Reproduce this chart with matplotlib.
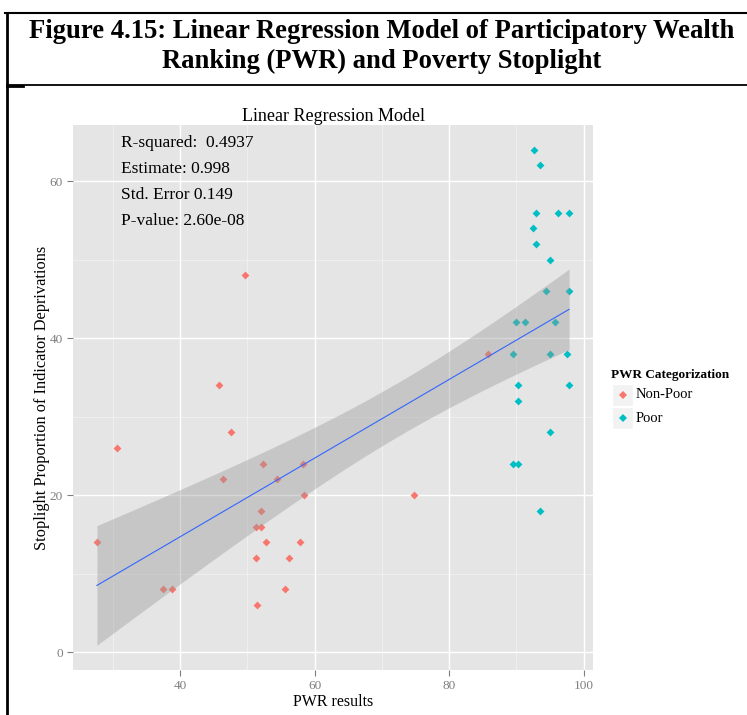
import numpy as np
import matplotlib
matplotlib.use("Agg")
import matplotlib.pyplot as plt
from matplotlib.lines import Line2D

# ---- data -------------------------------------------------------------
nonpoor_pwr = [45.75, 47.58, 30.53, 52.34, 58.33, 46.29, 54.42, 58.48, 74.8,
               52.09, 51.26, 52.0, 27.61, 52.74, 57.84, 51.26, 56.16,
               37.47, 38.81, 55.61, 51.41, 49.67, 85.84]
nonpoor_stop = [34, 28, 26, 24, 24, 22, 22, 20, 20,
                18, 16, 16, 14, 14, 14, 12, 12,
                8, 8, 8, 6, 48, 38]

poor_pwr = [92.64, 93.49, 92.94, 96.2, 97.84, 92.49, 92.94, 95.06, 94.38,
            97.84, 90.0, 91.35, 95.72, 89.56, 95.06, 97.5, 90.3, 97.84,
            90.3, 95.06, 89.56, 90.3, 93.49]
poor_stop = [64, 62, 56, 56, 56, 54, 52, 50, 46,
             46, 42, 42, 42, 38, 38, 38, 34, 34,
             32, 28, 24, 24, 18]

categories = ["Non-Poor", "Poor"]
colors = ["#F8766D", "#00BFC4"]

stats_lines = ["R-squared:  0.4937", "Estimate: 0.998",
               "Std. Error 0.149", "P-value: 2.60e-08"]

x_ticks = [40, 60, 80, 100]
y_ticks = [0, 20, 40, 60]

# ---- linear fit with 95% confidence band --------------------------------
x_all = np.array(nonpoor_pwr + poor_pwr, dtype=float)
y_all = np.array(nonpoor_stop + poor_stop, dtype=float)
n = len(x_all)
slope, intercept = np.polyfit(x_all, y_all, 1)
resid = y_all - (intercept + slope * x_all)
s = np.sqrt(np.sum(resid ** 2) / (n - 2))
x_mean = x_all.mean()
sxx = np.sum((x_all - x_mean) ** 2)
t_crit = 2.0154  # t(0.975, df=44)
xs = np.linspace(x_all.min(), x_all.max(), 80)
ys = intercept + slope * xs
se = s * np.sqrt(1.0 / n + (xs - x_mean) ** 2 / sxx)
lo, hi = ys - t_crit * se, ys + t_crit * se

# ---- figure -------------------------------------------------------------
serif = ["Liberation Serif", "DejaVu Serif"]
plt.rcParams["font.family"] = serif

W, H = 747, 715
fig = plt.figure(figsize=(W / 100, H / 100), dpi=100)

def fx(px):
    return px / W

def fy(py):
    return 1 - py / H

# framing lines around the heading
for (x0, y0, x1, y1, lw) in [(5, 13, 747, 13, 1.5), (7, 13, 7, 715, 2.0),
                              (7, 85, 747, 85, 1.3), (7, 86, 23, 86, 2.0)]:
    fig.add_artist(Line2D([fx(x0), fx(x1)], [fy(y0), fy(y1)],
                          color="black", lw=lw, transform=fig.transFigure))

fig.text(fx(382), fy(31), "Figure 4.15: Linear Regression Model of Participatory Wealth",
         ha="center", va="center", fontsize=19.2, fontweight="bold")
fig.text(fx(382), fy(61), "Ranking (PWR) and Poverty Stoplight",
         ha="center", va="center", fontsize=19.2, fontweight="bold")

ax = fig.add_axes([fx(73.3), fy(670), fx(592.7) - fx(73.3), fy(125) - fy(670)])
ax.set_facecolor("#E5E5E5")
for sp in ax.spines.values():
    sp.set_visible(False)

# grid
for v in [30, 50, 70, 90]:
    ax.axvline(v, color="#F2F2F2", lw=0.6, zorder=0.5)
for v in [10, 30, 50]:
    ax.axhline(v, color="#F2F2F2", lw=0.6, zorder=0.5)
for v in x_ticks:
    ax.axvline(v, color="white", lw=1.0, zorder=0.6)
for v in y_ticks:
    ax.axhline(v, color="white", lw=1.0, zorder=0.6)

ax.scatter(nonpoor_pwr, nonpoor_stop, marker="D", s=16, color=colors[0],
           linewidths=0, zorder=2)
ax.scatter(poor_pwr, poor_stop, marker="D", s=16, color=colors[1],
           linewidths=0, zorder=2)

ax.fill_between(xs, lo, hi, color="#999999", alpha=0.4, linewidth=0, zorder=3)
ax.plot(xs, ys, color="#3366FF", lw=0.8, zorder=4)

# ggplot-style 5% expansion
xr = x_all.max() - x_all.min()
ax.set_xlim(x_all.min() - 0.05 * xr, x_all.max() + 0.05 * xr)
ymin = min(y_all.min(), lo.min())
ymax = max(y_all.max(), hi.max())
yr = ymax - ymin
ax.set_ylim(ymin - 0.05 * yr, ymax + 0.05 * yr)

ax.set_xticks(x_ticks)
ax.set_yticks(y_ticks)
ax.tick_params(colors="#7F7F7F", labelcolor="#7F7F7F", labelsize=9.5,
               length=4, width=0.8)
ax.set_xlabel("PWR results", fontsize=11.5, color="black", labelpad=1)
ax.set_ylabel("Stoplight Proportion of Indicator Deprivations", fontsize=11.8,
              color="black", labelpad=0)
ax.set_title("Linear Regression Model", fontsize=13, pad=3)

for i, line in enumerate(stats_lines):
    ax.text(fx(121), fy(143 + i * 26), line, transform=fig.transFigure,
            fontsize=12.5, ha="left", va="center", color="black")

# legend
fig.text(fx(611), fy(375), "PWR Categorization", fontsize=9.5,
         fontweight="bold", ha="left", va="center")
for i, (cat, col) in enumerate(zip(categories, colors)):
    yc = 395 + i * 23
    fig.add_artist(plt.Rectangle((fx(612), fy(yc + 11)), fx(21), 22 / H,
                                 transform=fig.transFigure,
                                 facecolor="#F2F2F2", edgecolor="white", lw=1))
    fig.add_artist(Line2D([fx(622.5)], [fy(yc)], marker="D", markersize=4,
                          color=col, markeredgewidth=0, linestyle="none",
                          transform=fig.transFigure))
    fig.text(fx(636), fy(yc), cat, fontsize=10.5, ha="left", va="center")

fig.savefig("out.png", dpi=100)
